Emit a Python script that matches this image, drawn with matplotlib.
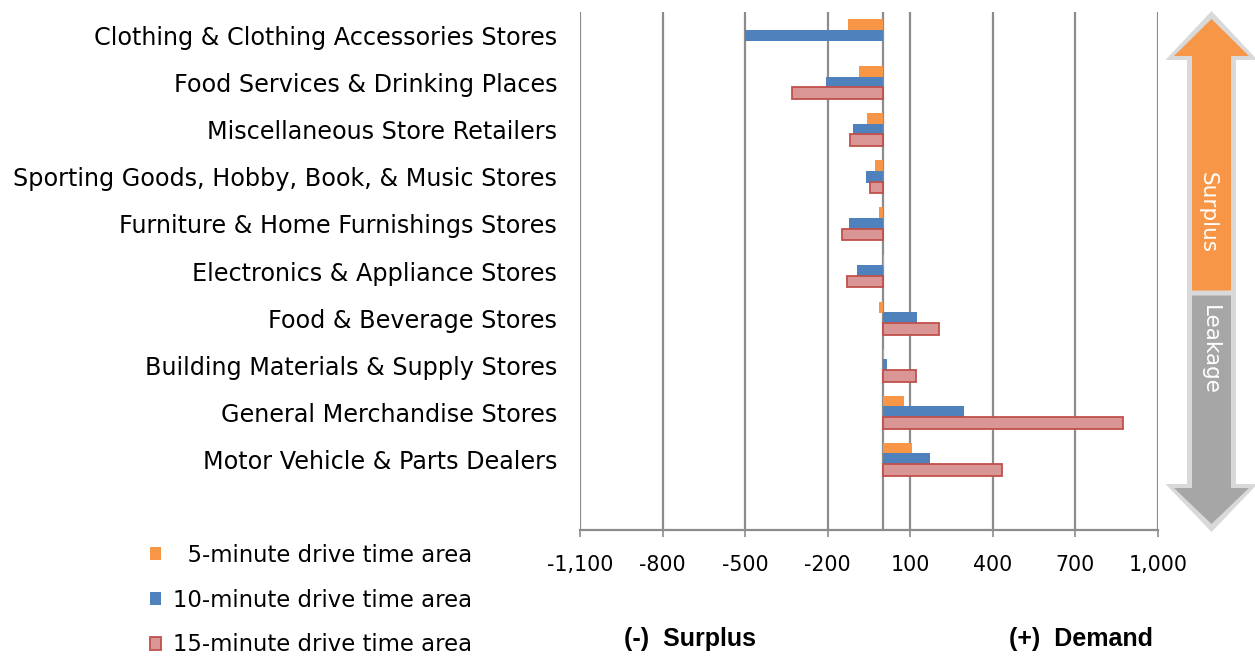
import numpy as np
import matplotlib
matplotlib.use("Agg")
import matplotlib.pyplot as plt
from matplotlib.patches import Polygon

plt.rcParams['font.family'] = 'DejaVu Sans'

categories = ["Clothing & Clothing Accessories Stores",
              "Food Services & Drinking Places",
              "Miscellaneous Store Retailers",
              "Sporting Goods, Hobby, Book, & Music Stores",
              "Furniture & Home Furnishings Stores",
              "Electronics & Appliance Stores",
              "Food & Beverage Stores",
              "Building Materials & Supply Stores",
              "General Merchandise Stores",
              "Motor Vehicle & Parts Dealers"]
min5 = [-127, -85, -58, -30, -15, 4, -15, 6, 78, 107]
min10 = [-500, -206, -109, -62, -124, -94, 124, 17, 294, 173]
min15 = [np.nan, -331, -119, -45, -149, -129, 205, 122, 874, 433]
series_labels = ["  5-minute drive time area", "10-minute drive time area", "15-minute drive time area"]
xticks = list(range(-1100, 1001, 300))

W, H = 1255, 656
fig = plt.figure(figsize=(W / 100, H / 100), dpi=100)
ax = fig.add_axes([580 / W, 1 - 530 / H, (1158 - 580) / W, (530 - 12) / H])

y = np.arange(len(categories))
bh = 0.25
b1 = ax.barh(y - 0.225, min5, height=bh, color='#F79646', zorder=3)
b2 = ax.barh(y, min10, height=bh, color='#4F81BD', zorder=3)
b3 = ax.barh(y + 0.225, min15, height=bh, color='#D99694', edgecolor='#C0504D',
             linewidth=1.3, zorder=3)

gc = '#8c8c8c'
ax.set_xlim(-1100, 1000)
ax.set_ylim(len(categories) + 0.5, -0.5)
ax.set_xticks(xticks)
ax.set_xticklabels(['{:,}'.format(v) for v in xticks])
ax.set_yticks(y)
ax.set_yticklabels(categories)
ax.grid(axis='x', color=gc, lw=1.6, zorder=0)
ax.axvline(0, color=gc, lw=1.6, zorder=2)
for s in ['top', 'right', 'left']:
    ax.spines[s].set_visible(False)
ax.spines['bottom'].set_color(gc)
ax.spines['bottom'].set_linewidth(1.6)
ax.tick_params(axis='y', length=0, pad=16.5, labelsize=17.2)
ax.tick_params(axis='x', length=5, width=1.2, color=gc, pad=13, labelsize=14.8)

fig.legend([b1, b2, b3], series_labels, loc='upper left',
           bbox_to_anchor=(150 / W, 1 - 544 / H), frameon=False, fontsize=16.4,
           handlelength=0.5, handleheight=0.5, handletextpad=0.5,
           labelspacing=0.95, borderpad=0, borderaxespad=0)

fig.text(690.5 / W, 1 - 639 / H, "(-)  Surplus", ha='center', va='center',
         family='Liberation Sans', weight='bold', fontsize=18)
fig.text(1081 / W, 1 - 639 / H, "(+)  Demand", ha='center', va='center',
         family='Liberation Sans', weight='bold', fontsize=18)

# double arrow on the right, drawn in pixel coords
ov = fig.add_axes([0, 0, 1, 1], facecolor='none')
ov.set_xlim(0, W)
ov.set_ylim(H, 0)
ov.axis('off')
outer = [(1211.5, 11), (1257.5, 60), (1236, 60), (1236, 484), (1257.5, 484),
         (1211.5, 532), (1165.5, 484), (1187, 484), (1187, 60), (1165.5, 60)]
upper = [(1211.5, 19), (1249, 56), (1231, 56), (1231, 290.5), (1192, 290.5),
         (1192, 56), (1174, 56)]
lower = [(1192, 295.5), (1231, 295.5), (1231, 488), (1249, 488), (1211.5, 524),
         (1174, 488), (1192, 488)]
ov.add_patch(Polygon(outer, closed=True, color='#d9d9d9', lw=0))
ov.add_patch(Polygon(upper, closed=True, color='#F79646', lw=0))
ov.add_patch(Polygon(lower, closed=True, color='#a6a6a6', lw=0))
ov.text(1208, 212, "Surplus", rotation=-90, ha='center', va='center',
        color='white', fontsize=15.5)
ov.text(1210, 350, "Leakage", rotation=-90, ha='center', va='center',
        color='white', fontsize=15.5)

fig.savefig("out.png", dpi=100)
